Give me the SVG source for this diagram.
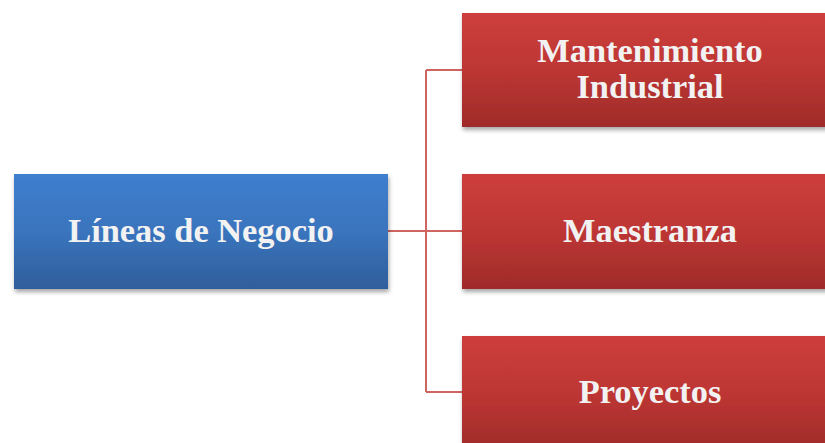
<svg xmlns="http://www.w3.org/2000/svg" width="825" height="443" viewBox="0 0 825 443">
<defs>
<linearGradient id="gb" x1="0" y1="0" x2="0" y2="1"><stop offset="0" stop-color="#3e7ece"/><stop offset="0.5" stop-color="#3a74bd"/><stop offset="1" stop-color="#2f5e9c"/></linearGradient>
<linearGradient id="gr" x1="0" y1="0" x2="0" y2="1"><stop offset="0" stop-color="#cd3e3b"/><stop offset="0.5" stop-color="#bd3634"/><stop offset="1" stop-color="#9f2b29"/></linearGradient>
<filter id="sh" x="-5%" y="-10%" width="115%" height="130%"><feDropShadow dx="1" dy="3" stdDeviation="2" flood-color="#000" flood-opacity="0.35"/></filter>
</defs>
<style>
.t{font-family:"Liberation Serif","Times New Roman",serif;font-weight:bold;font-size:34.4px;fill:#f2f2f2;text-anchor:middle}
.c{fill:none;stroke:#cf6461;stroke-width:2}
</style>
<rect width="825" height="443" fill="#fff"/>
<g id="connectors">
<path class="c" d="M388 231H426M426 70V392M426 70H462M426 231H462M426 392H462"/>
</g>
<g id="root">
<rect x="14" y="174" width="374" height="115" fill="url(#gb)" filter="url(#sh)"/>
<text class="t" x="201" y="242">Líneas de Negocio</text>
</g>
<g id="n1">
<rect x="462" y="13" width="370" height="114" fill="url(#gr)" filter="url(#sh)"/>
<text class="t" x="650" y="62">Mantenimiento</text>
<text class="t" x="650" y="98">Industrial</text>
</g>
<g id="n2">
<rect x="462" y="174" width="370" height="115" fill="url(#gr)" filter="url(#sh)"/>
<text class="t" x="650" y="242">Maestranza</text>
</g>
<g id="n3">
<rect x="462" y="336" width="370" height="115" fill="url(#gr)" filter="url(#sh)"/>
<text class="t" x="650" y="403">Proyectos</text>
</g>
</svg>
